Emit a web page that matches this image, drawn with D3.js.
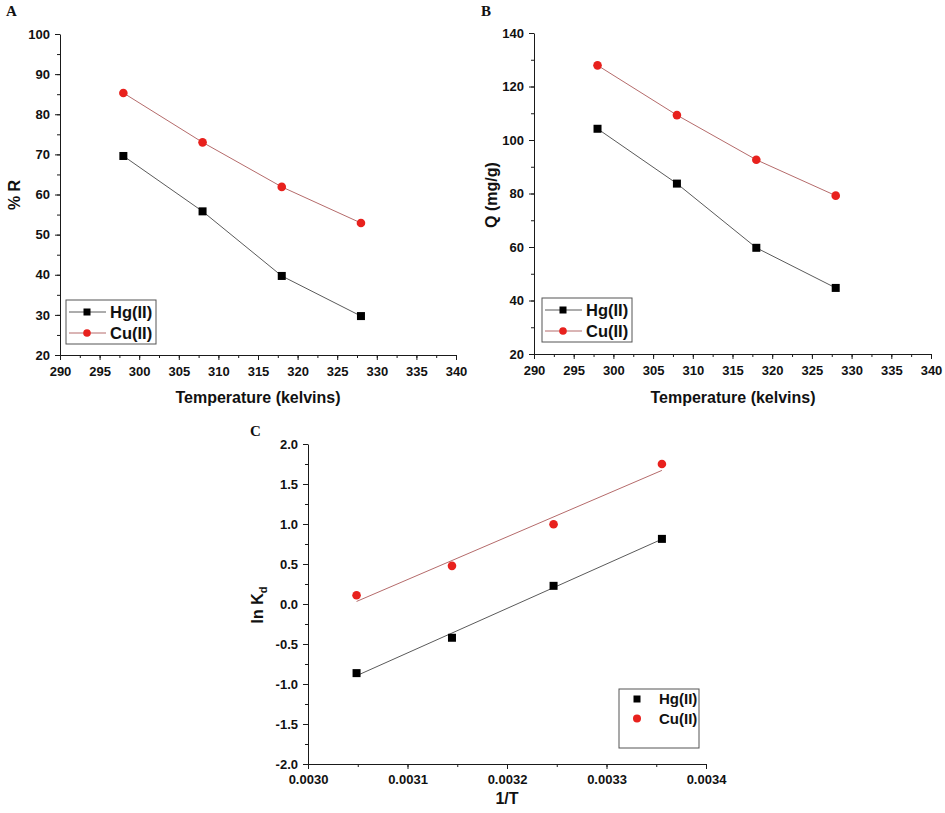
<!DOCTYPE html>
<html>
<head>
<meta charset="utf-8">
<script src="https://cdn.jsdelivr.net/npm/d3@7"></script>
<style>
  html, body { margin: 0; padding: 0; background: #fff; }
  svg { display: block; }
  svg .tick text { font-family: "Liberation Sans", Arial, sans-serif !important; font-size: 13px !important; font-weight: bold !important; fill: #111 !important; }
</style>
</head>
<body>
<svg id="chart" width="945" height="813"></svg>
<script>
// ---------- data ----------
const temperature = [298, 308, 318, 328];
const removalHg = [69.6, 55.8, 39.7, 29.7];
const removalCu = [85.3, 73.0, 61.9, 52.9];
const capacityHg = [104.2, 83.7, 59.7, 44.7];
const capacityCu = [127.9, 109.3, 92.6, 79.2];
const inverseT = [0.0033557, 0.0032468, 0.0031447, 0.0030488];
const lnKdHg = [0.814, 0.227, -0.422, -0.864];
const lnKdCu = [1.750, 0.997, 0.477, 0.110];
const seriesNames = ["Hg(II)", "Cu(II)"];

const tempTicks = [290, 295, 300, 305, 310, 315, 320, 325, 330, 335, 340];
const removalTicks = [20, 30, 40, 50, 60, 70, 80, 90, 100];
const capacityTicks = [20, 40, 60, 80, 100, 120, 140];
const invTTicks = [0.0030, 0.0031, 0.0032, 0.0033, 0.0034];
const lnKdTicks = [-2.0, -1.5, -1.0, -0.5, 0.0, 0.5, 1.0, 1.5, 2.0];

// ---------- styles ----------
const FONT = "'Liberation Sans', Arial, sans-serif";
const HG_MARK = "#000000";
const CU_MARK = "#e8211d";
const HG_LINE = "#5a5a5a";
const CU_LINE = "#b56b6b";
const AXIS = "#1a1a1a";

const svg = d3.select("#chart");
const fmtHyphen = f => (v => f(v).replace("\u2212", "-"));

function minorValues(domain, step) {
  const out = [];
  const n = Math.round((domain[1] - domain[0]) / step);
  for (let i = 0; i <= n; i++) out.push(domain[0] + i * step);
  return out;
}

function styleText(sel, size) {
  return sel.style("font-family", FONT).style("font-size", size + "px")
    .style("font-weight", "bold").style("fill", "#111");
}

function drawAxes(g, x, y, opts) {
  g.append("g").attr("transform", `translate(0,${y.range()[0]})`)
    .call(d3.axisBottom(x).tickValues(minorValues(x.domain(), opts.xMinor)).tickSize(3).tickFormat(""))
    .call(s => s.select(".domain").remove());
  g.append("g").attr("transform", `translate(${x.range()[0]},0)`)
    .call(d3.axisLeft(y).tickValues(minorValues(y.domain(), opts.yMinor)).tickSize(3).tickFormat(""))
    .call(s => s.select(".domain").remove());
  const xa = g.append("g").attr("transform", `translate(0,${y.range()[0]})`)
    .call(d3.axisBottom(x).tickValues(opts.xTicks).tickSize(5).tickSizeOuter(0).tickPadding(opts.xPad).tickFormat(opts.xFmt));
  const ya = g.append("g").attr("transform", `translate(${x.range()[0]},0)`)
    .call(d3.axisLeft(y).tickValues(opts.yTicks).tickSize(5).tickSizeOuter(0).tickPadding(5).tickFormat(opts.yFmt));
  [xa, ya].forEach(a => {
    a.attr("font-size", 13).attr("font-weight", "bold").attr("font-family", FONT);
  });
  g.selectAll(".domain, .tick line").style("stroke", AXIS).style("stroke-width", "1px");
}

function square(g, cx, cy, s, fill) {
  g.append("rect").attr("x", cx - s / 2).attr("y", cy - s / 2).attr("width", s).attr("height", s).attr("fill", fill);
}

function drawPointsLine(g, x, y, xs, ys, lineColor, markColor, isSquare, connect) {
  const pts = xs.map((v, i) => [v, ys[i]]);
  if (connect) {
    g.append("path").datum(pts)
      .attr("d", d3.line().x(d => x(d[0])).y(d => y(d[1])))
      .attr("fill", "none").attr("stroke", lineColor).attr("stroke-width", 1);
  }
  pts.forEach(d => {
    if (isSquare) square(g, x(d[0]), y(d[1]), 8, markColor);
    else g.append("circle").attr("cx", x(d[0])).attr("cy", y(d[1])).attr("r", 4.3).attr("fill", markColor);
  });
}

function linearFit(xs, ys) {
  const mx = d3.mean(xs), my = d3.mean(ys);
  let sxy = 0, sxx = 0;
  xs.forEach((v, i) => { sxy += (v - mx) * (ys[i] - my); sxx += (v - mx) * (v - mx); });
  const b = sxy / sxx;
  return v => my + b * (v - mx);
}

function panelLetter(txt, px, py) {
  svg.append("text").attr("x", px).attr("y", py).text(txt)
    .style("font-family", "'Liberation Serif', 'Times New Roman', serif")
    .style("font-weight", "bold").style("font-size", "15px").style("fill", "#111");
}

function lineLegend(g, bx, by) {
  g.append("rect").attr("x", bx).attr("y", by).attr("width", 90).attr("height", 44)
    .attr("fill", "#fff").attr("stroke", "#555").attr("stroke-width", 1);
  const rows = [
    { name: seriesNames[0], line: HG_LINE, mark: HG_MARK, sq: true },
    { name: seriesNames[1], line: CU_LINE, mark: CU_MARK, sq: false }
  ];
  rows.forEach((r, i) => {
    const cy = by + 12 + i * 21;
    g.append("line").attr("x1", bx + 3).attr("x2", bx + 40).attr("y1", cy).attr("y2", cy)
      .attr("stroke", r.line).attr("stroke-width", 1);
    if (r.sq) square(g, bx + 21, cy, 7, r.mark);
    else g.append("circle").attr("cx", bx + 21).attr("cy", cy).attr("r", 3.8).attr("fill", r.mark);
    styleText(g.append("text").attr("x", bx + 44).attr("y", cy).attr("dy", "0.36em").text(r.name), 16.5);
  });
}

function title(g, txt, xPos, yPos, rotate) {
  const t = g.append("text").attr("text-anchor", "middle");
  if (rotate) t.attr("transform", `translate(${xPos},${yPos}) rotate(-90)`);
  else t.attr("x", xPos).attr("y", yPos);
  styleText(t, 16);
  if (txt) t.text(txt);
  return t;
}

// ---------- Panel A ----------
{
  const x = d3.scaleLinear().domain([290, 340]).range([60, 456]);
  const y = d3.scaleLinear().domain([20, 100]).range([355, 34]);
  const g = svg.append("g");
  drawAxes(g, x, y, { xTicks: tempTicks, yTicks: removalTicks, xMinor: 2.5, yMinor: 5, xPad: 7,
    xFmt: d3.format("d"), yFmt: d3.format("d") });
  drawPointsLine(g, x, y, temperature, removalCu, CU_LINE, CU_MARK, false, true);
  drawPointsLine(g, x, y, temperature, removalHg, HG_LINE, HG_MARK, true, true);
  lineLegend(g, 66, 300);
  title(g, "Temperature (kelvins)", 258, 403, false);
  title(g, "% R", 20, 195, true);
  panelLetter("A", 6, 16);
}

// ---------- Panel B ----------
{
  const x = d3.scaleLinear().domain([290, 340]).range([534, 931]);
  const y = d3.scaleLinear().domain([20, 140]).range([354, 33]);
  const g = svg.append("g");
  drawAxes(g, x, y, { xTicks: tempTicks, yTicks: capacityTicks, xMinor: 2.5, yMinor: 10, xPad: 7,
    xFmt: d3.format("d"), yFmt: d3.format("d") });
  drawPointsLine(g, x, y, temperature, capacityCu, CU_LINE, CU_MARK, false, true);
  drawPointsLine(g, x, y, temperature, capacityHg, HG_LINE, HG_MARK, true, true);
  lineLegend(g, 542, 298);
  title(g, "Temperature (kelvins)", 733, 403, false);
  title(g, "Q (mg/g)", 497, 195, true);
  panelLetter("B", 481, 16);
}

// ---------- Panel C ----------
{
  const x = d3.scaleLinear().domain([0.0030, 0.0034]).range([308, 706]);
  const y = d3.scaleLinear().domain([-2, 2]).range([764, 444]);
  const g = svg.append("g");
  drawAxes(g, x, y, { xTicks: invTTicks, yTicks: lnKdTicks, xMinor: 0.00005, yMinor: 0.25, xPad: 6,
    xFmt: fmtHyphen(d3.format(".4f")), yFmt: fmtHyphen(d3.format(".1f")) });
  const series = [
    { ys: lnKdCu, line: CU_LINE, mark: CU_MARK, sq: false },
    { ys: lnKdHg, line: HG_LINE, mark: HG_MARK, sq: true }
  ];
  series.forEach(s => {
    const f = linearFit(inverseT, s.ys);
    const ext = d3.extent(inverseT);
    g.append("line").attr("x1", x(ext[0])).attr("y1", y(f(ext[0])))
      .attr("x2", x(ext[1])).attr("y2", y(f(ext[1])))
      .attr("stroke", s.line).attr("stroke-width", 1);
    drawPointsLine(g, x, y, inverseT, s.ys, s.line, s.mark, s.sq, false);
  });
  g.append("rect").attr("x", 619).attr("y", 689).attr("width", 80).attr("height", 59)
    .attr("fill", "#fff").attr("stroke", "#555").attr("stroke-width", 1);
  [[seriesNames[0], HG_MARK, true], [seriesNames[1], CU_MARK, false]].forEach((r, i) => {
    const cy = 699 + i * 19.5;
    if (r[2]) square(g, 637, cy, 7, r[1]);
    else g.append("circle").attr("cx", 637).attr("cy", cy).attr("r", 4).attr("fill", r[1]);
    styleText(g.append("text").attr("x", 659).attr("y", cy).attr("dy", "0.36em").text(r[0]), 15);
  });
  title(g, "1/T", 507, 804, false);
  const yl = title(g, null, 263, 605, true);
  yl.append("tspan").text("ln K");
  yl.append("tspan").style("font-size", "11px").attr("dy", 4).text("d");
  panelLetter("C", 250, 436);
}
</script>
</body>
</html>
